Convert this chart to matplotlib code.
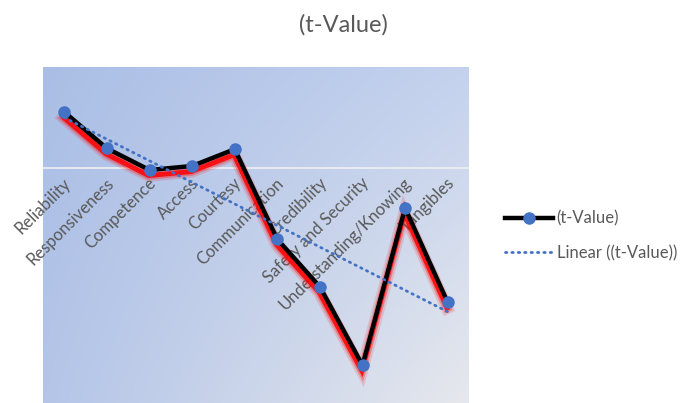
import numpy as np
import matplotlib
matplotlib.use("Agg")
import matplotlib.pyplot as plt
import matplotlib.patheffects as pe

categories = ["Reliability", "Responsiveness", "Competence", "Access", "Courtesy",
              "Communication", "Credibility", "Safety and Security",
              "Understanding/Knowing", "Tangibles"]
t_values = [1.40, 0.49, -0.05, 0.05, 0.47, -1.78, -2.97, -4.93, -1.00, -3.36]

series_label = "(t-Value)"
trend_label = "Linear ((t-Value))"
title = "(t-Value)"

plt.rcParams['font.family'] = ['Lato', 'DejaVu Sans']
gray = "#595959"
blue = "#4472c4"

fig = plt.figure(figsize=(6.87, 4.03), dpi=100)
ax = fig.add_axes([43/687, 0, 426/687, (403-67)/403])

x = np.arange(len(categories))
ax.set_xlim(-0.5, len(categories) - 0.5)
ax.set_ylim(-5.875, 2.525)

# gradient background
h, w = 200, 300
yy, xx = np.mgrid[0:1:h*1j, 0:1:w*1j]
TL = np.array([170, 190, 229]); TR = np.array([196, 210, 238])
BL = np.array([180, 197, 232]); BR = np.array([230, 232, 237])
img = ((1-xx)[..., None]*(1-yy)[..., None]*TL + xx[..., None]*(1-yy)[..., None]*TR
       + (1-xx)[..., None]*yy[..., None]*BL + xx[..., None]*yy[..., None]*BR) / 255.0
ax.imshow(img, extent=[-0.5, len(categories)-0.5, -5.875, 2.525], aspect='auto',
          origin='upper', zorder=0, interpolation='bilinear')

ax.axhline(0, color="#eceef1", lw=1.3, zorder=1)

# main line with red glow shadow
shadow = [
    pe.SimpleLineShadow(offset=(-0.5, -4), shadow_color='red', alpha=0.15, rho=1, linewidth=9),
    pe.SimpleLineShadow(offset=(-0.5, -4), shadow_color='red', alpha=0.3, rho=1, linewidth=6),
    pe.SimpleLineShadow(offset=(-0.5, -4), shadow_color='red', alpha=0.85, rho=1, linewidth=3.5),
    pe.Normal(),
]
ax.plot(x, t_values, color='black', lw=3.2, zorder=3, path_effects=shadow,
        solid_joinstyle='miter')

# trend line (drawn over the series line)
coef = np.polyfit(x, t_values, 1)
trend = np.polyval(coef, x)
ax.plot(x, trend, color=blue, lw=2, linestyle=(0, (0.5, 1.8)), dash_capstyle='round',
        zorder=4, label=trend_label)

ax.plot(x, t_values, linestyle='none', marker='o', ms=8, color=blue, mec=blue, zorder=5)

# legend handle
ax.plot([], [], color='black', lw=3.2, marker='o', ms=8, mfc=blue, mec=blue, label=series_label)

# category labels along the zero line
for xi, name in zip(x, categories):
    ax.annotate(name, (xi, 0), xytext=(3, -9), textcoords='offset points',
                rotation=45, rotation_mode='anchor', ha='right', va='center',
                fontsize=12, color=gray, zorder=2)

ax.set_xticks([]); ax.set_yticks([])
for s in ax.spines.values():
    s.set_visible(False)

handles, labels = ax.get_legend_handles_labels()
order = [1, 0]
leg = fig.legend([handles[i] for i in order], [labels[i] for i in order],
                 loc='center left', bbox_to_anchor=(490/687, 1 - 236/403), frameon=False,
                 fontsize=12, labelcolor=gray, handlelength=2.9, handletextpad=0.2,
                 labelspacing=1.1)

fig.text(0.5, 1 - 25/403, title, ha='center', va='center', fontsize=17, color=gray)

fig.savefig("out.png", dpi=100, facecolor='white')
